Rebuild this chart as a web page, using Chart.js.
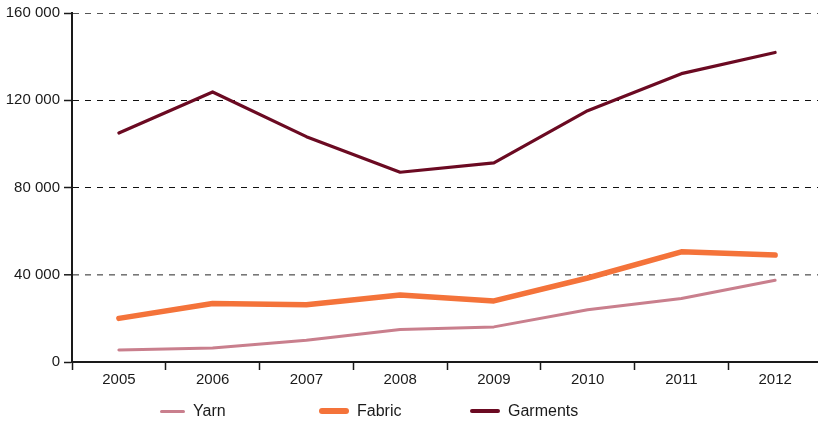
<!DOCTYPE html>
<html>
<head>
<meta charset="utf-8">
<script src="https://cdn.jsdelivr.net/npm/chart.js@4/dist/chart.umd.min.js"></script>
<style>
  html, body { margin: 0; padding: 0; background: #fff; overflow: hidden; width: 818px; height: 423px; }
  #wrap { position: relative; width: 822px; height: 423px; }
  #c { position: absolute; left: 0; top: 0; }
  .lg { position: absolute; top: 401px; height: 20px; display: flex; align-items: center;
        font-family: "Liberation Sans", Arial, sans-serif; font-size: 16px; color: #1a1a1a; }
  .lg i { display: inline-block; margin-right: 8px; border-radius: 3px; }
</style>
</head>
<body>
<div id="wrap">
  <canvas id="c" width="822" height="423"></canvas>
</div>
<script>
const categories = ["2005", "2006", "2007", "2008", "2009", "2010", "2011", "2012"];
const yarn     = [5500, 6400, 10000, 14900, 16100, 24000, 29100, 37500];
const fabric   = [20000, 26800, 26200, 30700, 28000, 38500, 50500, 49000];
const garments = [105000, 123800, 103300, 87000, 91300, 115200, 132200, 141900];
const yTicks   = [0, 40000, 80000, 120000, 160000];
const seriesNames = ["Yarn", "Fabric", "Garments"];

const colors = { Yarn: "#c97f8d", Fabric: "#f4733a", Garments: "#6b0a22" };
const widths = { Yarn: 3, Fabric: 5.5, Garments: 3.2 };
const legendLeft = { Yarn: 160, Fabric: 319, Garments: 470 };
const legendLen = { Yarn: 25, Fabric: 30, Garments: 30 };

function fmt(v) {
  return String(v).replace(/\B(?=(\d{3})+(?!\d))/g, " ");
}

const seriesData = { Yarn: yarn, Fabric: fabric, Garments: garments };

const ctx = document.getElementById("c").getContext("2d");
new Chart(ctx, {
  type: "line",
  data: {
    labels: categories,
    datasets: seriesNames.map(n => ({
      label: n,
      data: seriesData[n],
      borderColor: colors[n],
      backgroundColor: colors[n],
      borderWidth: widths[n],
      pointRadius: 0,
      tension: 0,
      borderCapStyle: "round",
      borderJoinStyle: "round",
      fill: false
    }))
  },
  options: {
    responsive: false,
    animation: false,
    layout: { padding: { top: 13, left: 0, right: 0, bottom: 0 } },
    plugins: { legend: { display: false }, tooltip: { enabled: false } },
    scales: {
      x: {
        offset: true,
        afterFit: s => { s.height = 61; },
        grid: {
          offset: true,
          drawOnChartArea: false,
          drawTicks: true,
          tickLength: 8,
          tickWidth: 1.5,
          tickColor: "#1a1a1a"
        },
        border: { display: true, color: "#1a1a1a", width: 2 },
        ticks: {
          color: "#1a1a1a",
          padding: 1,
          font: { family: "'Liberation Sans', Arial, sans-serif", size: 15 },
          maxRotation: 0,
          autoSkip: false
        }
      },
      y: {
        min: yTicks[0],
        max: yTicks[yTicks.length - 1],
        afterFit: s => { s.width = 72; },
        afterBuildTicks: s => { s.ticks = yTicks.map(v => ({ value: v })); },
        grid: {
          drawOnChartArea: true,
          drawTicks: true,
          tickLength: 8,
          tickWidth: 1.5,
          tickColor: "#1a1a1a",
          lineWidth: c => {
            const v = c.tick ? c.tick.value : null;
            return (v === 40000) ? 1.6 : 1;
          },
          color: c => {
            const v = c.tick ? c.tick.value : null;
            if (v === 0) return "rgba(0,0,0,0)";
            if (v === 40000) return "#777";
            if (v === 160000) return "#555";
            return "#111";
          }
        },
        border: { display: true, color: "#1a1a1a", width: 2, dash: [6, 6], dashOffset: 0 },
        ticks: {
          color: "#1a1a1a",
          padding: 4,
          font: { family: "'Liberation Sans', Arial, sans-serif", size: 15 },
          callback: v => fmt(v)
        }
      }
    }
  }
});

const wrap = document.getElementById("wrap");
seriesNames.forEach(n => {
  const d = document.createElement("div");
  d.className = "lg";
  d.style.left = legendLeft[n] + "px";
  const i = document.createElement("i");
  i.style.width = legendLen[n] + "px";
  i.style.height = widths[n] + "px";
  i.style.background = colors[n];
  d.appendChild(i);
  d.appendChild(document.createTextNode(n));
  wrap.appendChild(d);
});
</script>
</body>
</html>
